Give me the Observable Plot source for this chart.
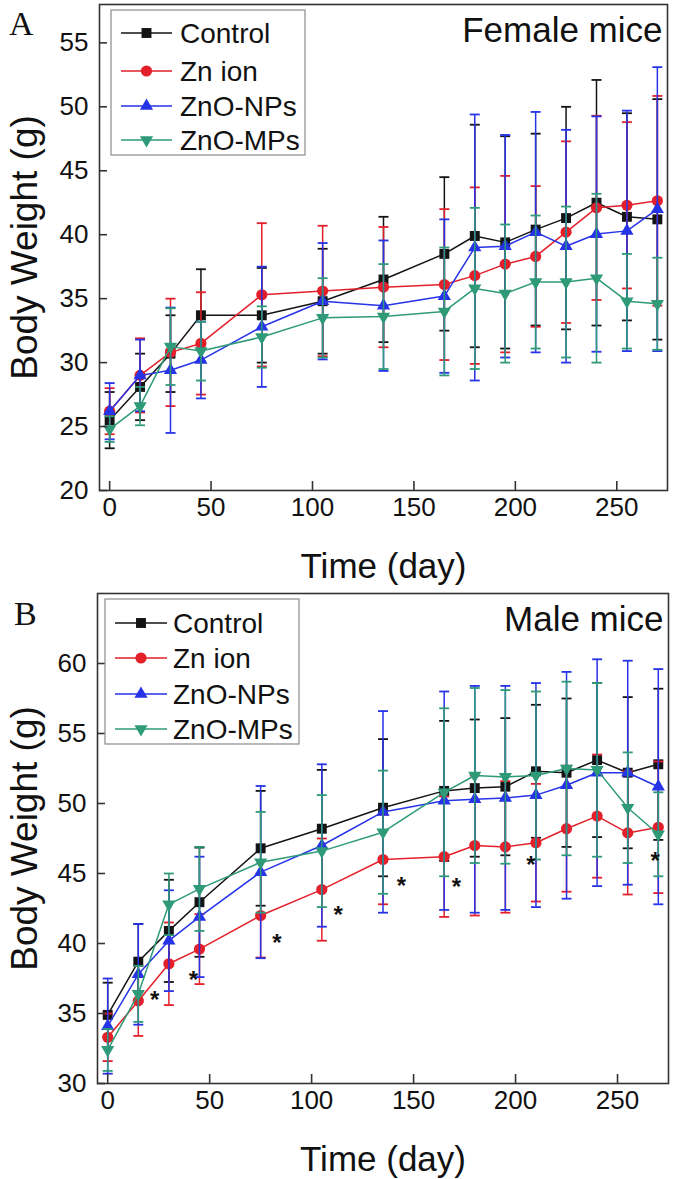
<!DOCTYPE html>
<html><head><meta charset="utf-8">
<script src="https://cdn.jsdelivr.net/npm/d3@7"></script>
<script src="https://cdn.jsdelivr.net/npm/@observablehq/plot@0.6"></script>
<style>
body{margin:0;background:#fff;}
#wrap{position:relative;width:675px;height:1179px;overflow:hidden;font-family:"Liberation Sans",Arial,sans-serif;}
#wrap > svg{position:absolute;left:0;}
</style></head><body><div id="wrap"></div>
<script>
// ---- data ----
const days = [0, 15, 30, 45, 75, 105, 135, 165, 180, 195, 210, 225, 240, 255, 270];
const groups = ["Control", "Zn ion", "ZnO-NPs", "ZnO-MPs"];
const xTicks = [0, 50, 100, 150, 200, 250];

// Female mice (panel A)
const femaleControl   = [25.5, 28.1, 30.7, 33.7, 33.7, 34.8, 36.5, 38.5, 39.9, 39.4, 40.4, 41.3, 42.5, 41.4, 41.2];
const femaleControlSD = [2.2, 2.6, 3.0, 3.6, 3.7, 4.1, 4.9, 6.0, 8.7, 8.3, 7.5, 8.7, 9.6, 8.1, 9.4];
const femaleZn        = [26.2, 29.0, 30.8, 31.5, 35.3, 35.6, 35.9, 36.1, 36.8, 37.7, 38.3, 40.2, 42.1, 42.3, 42.65];
const femaleZnSD      = [1.8, 2.9, 4.2, 4.0, 5.6, 5.1, 4.7, 5.9, 6.9, 6.9, 5.5, 7.1, 7.2, 6.5, 8.2];
const femaleNP        = [26.2, 29.0, 29.4, 30.2, 32.8, 34.8, 34.45, 35.2, 39.0, 39.1, 40.2, 39.1, 40.05, 40.3, 42.0];
const femaleNPSD      = [2.2, 2.8, 4.9, 3.0, 4.7, 4.55, 5.1, 6.0, 10.4, 8.7, 9.4, 9.1, 9.2, 9.4, 11.1];
const femaleMP        = [24.8, 26.6, 31.25, 30.9, 32.0, 33.5, 33.6, 34.0, 35.8, 35.4, 36.3, 36.3, 36.6, 34.8, 34.6];
const femaleMPSD      = [1.0, 1.5, 3.0, 2.3, 2.4, 3.1, 4.1, 5.0, 6.3, 5.4, 5.2, 5.9, 6.6, 3.7, 3.6];
const femaleYTicks = [20, 25, 30, 35, 40, 45, 50, 55];

// Male mice (panel B)
const maleControl   = [34.9, 38.7, 40.9, 42.95, 46.8, 48.2, 49.7, 50.9, 51.1, 51.2, 52.3, 52.2, 53.1, 52.2, 52.8];
const maleControlSD = [2.3, 2.7, 3.65, 3.9, 4.1, 4.2, 4.9, 5.0, 4.9, 4.9, 4.75, 5.3, 5.5, 5.4, 5.4];
const maleZn        = [33.3, 35.9, 38.55, 39.6, 42.0, 43.85, 46.0, 46.2, 47.0, 46.9, 47.2, 48.2, 49.1, 47.9, 48.3];
const maleZnSD      = [1.7, 2.5, 2.95, 2.5, 3.0, 3.65, 3.2, 4.3, 5.0, 4.7, 4.2, 4.5, 4.4, 4.4, 4.7];
const maleNP        = [34.1, 37.8, 40.2, 41.9, 45.1, 47.0, 49.4, 50.2, 50.3, 50.4, 50.6, 51.3, 52.2, 52.2, 51.2];
const maleNPSD      = [3.4, 3.6, 3.6, 4.3, 6.15, 5.8, 7.2, 7.8, 8.1, 8.0, 8.0, 8.1, 8.1, 8.0, 8.4];
const maleMP        = [32.4, 36.4, 42.8, 43.9, 45.8, 46.6, 47.95, 50.8, 52.0, 51.9, 52.0, 52.5, 52.4, 49.7, 47.8];
const maleMPSD      = [1.5, 2.0, 2.2, 3.0, 3.6, 4.0, 4.4, 6.0, 6.25, 6.2, 6.0, 6.2, 6.2, 3.95, 3.0];
const maleYTicks = [30, 35, 40, 45, 50, 55, 60];
// significance markers (Zn ion vs control), male
const starDays   = [23, 42, 83, 113, 144, 171, 207.5, 268.5];
const starValues = [36.45, 37.9, 40.5, 42.5, 44.6, 44.5, 46.1, 46.4];

// ---- styles ----
const colors = ["#141414", "#e3202a", "#2633e6", "#2e9a78"];
const symbols = ["square", "circle", "triangle", "triangle"];
const rotations = [0, 0, 0, 180];
const radii = [5.6, 5.6, 4.9, 4.9];
const FONT = "'Liberation Sans', Arial, sans-serif";

const capSymbol = {draw(ctx, size) { const w = Math.sqrt(size / Math.PI); ctx.moveTo(-w, 0); ctx.lineTo(w, 0); }};

function panel(opts) {
  const {values, sds, yDomain, yTicks, title, stars, height, marginTop, marginBottom, marginLeft, marginRight} = opts;
  const innerW = 675 - marginLeft - marginRight;
  const innerH = height - marginTop - marginBottom;
  const marks = [];
  groups.forEach((g, gi) => {
    const d = days.map((t, i) => ({t, v: values[gi][i], sd: sds[gi][i]}));
    marks.push(Plot.ruleX(d, {x: "t", y1: r => r.v - r.sd, y2: r => r.v + r.sd, stroke: colors[gi], strokeWidth: 1.5}));
    marks.push(Plot.dot(d, {x: "t", y: r => r.v + r.sd, symbol: capSymbol, r: 5, stroke: colors[gi], strokeWidth: 1.8, fill: "none"}));
    marks.push(Plot.dot(d, {x: "t", y: r => r.v - r.sd, symbol: capSymbol, r: 5, stroke: colors[gi], strokeWidth: 1.8, fill: "none"}));
    marks.push(Plot.line(d, {x: "t", y: "v", stroke: colors[gi], strokeWidth: 1.5}));
    marks.push(Plot.dot(d, {x: "t", y: "v", symbol: symbols[gi], r: radii[gi], fill: colors[gi], stroke: "none", rotate: rotations[gi]}));
  });
  if (stars) {
    marks.push(Plot.text(stars.days.map((t, i) => ({t, v: stars.values[i]})), {x: "t", y: "v", text: () => "*", fontSize: 24, fontWeight: "bold", fill: "#111", dy: 7}));
  }
  marks.push(Plot.frame({stroke: "#333", strokeWidth: 1.6}));
  marks.push(Plot.tickY(yTicks, {y: d => d, insetRight: innerW - 8, stroke: "#333", strokeWidth: 1.6}));
  marks.push(Plot.tickX(xTicks, {x: d => d, insetTop: innerH - 9, stroke: "#333", strokeWidth: 1.6}));
  marks.push(Plot.axisY({ticks: yTicks, tickSize: 0, tickPadding: 11, fontSize: 26, label: null}));
  marks.push(Plot.axisX({ticks: xTicks, tickSize: 0, tickPadding: 7, fontSize: 26, label: null}));
  marks.push(Plot.text(["Time (day)"], {frameAnchor: "bottom", textAnchor: "middle", dy: 76, fontSize: 35, lineAnchor: "middle", fill: "#111"}));
  marks.push(Plot.text(["Body Weight (g)"], {frameAnchor: "left", textAnchor: "middle", rotate: -90, dx: -(marginLeft - 25), fontSize: 37, lineAnchor: "middle", fill: "#111"}));
  marks.push(Plot.text([title], {frameAnchor: "top-right", textAnchor: "end", lineAnchor: "top", dx: -5, dy: 13, fontSize: 35, fill: "#111"}));
  return Plot.plot({
    width: 675, height, marginTop, marginBottom, marginLeft, marginRight,
    style: {fontFamily: FONT, color: "#111", background: "transparent", overflow: "visible"},
    x: {domain: [-5, 275]},
    y: {domain: yDomain},
    marks
  });
}

const wrap = document.getElementById("wrap");
const a = panel({
  values: [femaleControl, femaleZn, femaleNP, femaleMP],
  sds: [femaleControlSD, femaleZnSD, femaleNPSD, femaleMPSD],
  yDomain: [20, 58], yTicks: femaleYTicks, title: "Female mice",
  height: 590, marginTop: 4, marginBottom: 100, marginLeft: 99, marginRight: 8
});
a.style.top = "0px";
wrap.appendChild(a);
const b = panel({
  values: [maleControl, maleZn, maleNP, maleMP],
  sds: [maleControlSD, maleZnSD, maleNPSD, maleMPSD],
  yDomain: [30, 65], yTicks: maleYTicks, title: "Male mice",
  stars: {days: starDays, values: starValues},
  height: 589, marginTop: 3, marginBottom: 96, marginLeft: 97, marginRight: 7
});
b.style.top = "590px";
wrap.appendChild(b);

// ---- overlay: panel letters and legends ----
const ov = d3.select(wrap).append("svg").attr("width", 675).attr("height", 1179).style("top", "0px").style("pointer-events", "none");
ov.append("text").attr("x", 9).attr("y", 35).attr("font-family", "'Liberation Serif', 'Times New Roman', serif").attr("font-size", 34).attr("fill", "#111").text("A");
ov.append("text").attr("x", 14).attr("y", 625).attr("font-family", "'Liberation Serif', 'Times New Roman', serif").attr("font-size", 34).attr("fill", "#111").text("B");

const symbolTypes = [d3.symbolSquare, d3.symbolCircle, d3.symbolTriangle, d3.symbolTriangle];
function legend(box, rows, lineX1, lineX2, textX) {
  const g = ov.append("g");
  g.append("rect").attr("x", box[0]).attr("y", box[1]).attr("width", box[2]).attr("height", box[3])
    .attr("fill", "#fff").attr("stroke", "#8a8a8a").attr("stroke-width", 1.2);
  groups.forEach((name, gi) => {
    const y = rows[gi];
    const mx = (lineX1 + lineX2) / 2;
    g.append("line").attr("x1", lineX1).attr("x2", lineX2).attr("y1", y).attr("y2", y).attr("stroke", colors[gi]).attr("stroke-width", 1.5);
    g.append("path").attr("d", d3.symbol(symbolTypes[gi], Math.PI * radii[gi] * radii[gi])())
      .attr("transform", `translate(${mx},${y}) rotate(${rotations[gi]})`).attr("fill", colors[gi]);
    g.append("text").attr("x", textX).attr("y", y).attr("dy", "0.35em").attr("font-family", FONT).attr("font-size", 28).attr("fill", "#111").text(name);
  });
}
legend([111, 10, 194, 145], [33, 71, 106, 140], 121, 172, 180);
legend([105, 599, 194, 145], [623, 658, 694, 729], 115, 167, 173);
</script>
</body></html>
